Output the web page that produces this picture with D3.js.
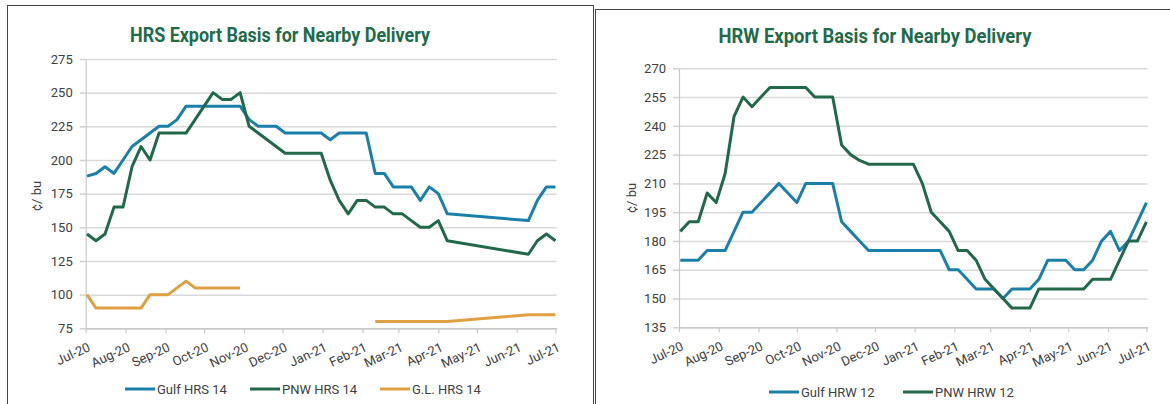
<!DOCTYPE html>
<html>
<head>
<meta charset="utf-8">
<script src="https://cdn.jsdelivr.net/npm/d3@7"></script>
<style>
  body { margin: 0; background: #fff; }
  svg { display: block; font-family: Roboto, "Noto Sans", sans-serif; }
</style>
</head>
<body>
<svg id="chart" width="1170" height="404"></svg>
<script>
// Weekly dates (Thursdays). HRS chart has no rows between Apr 8 and Jun 10.
const hrsDates = [
  "2020-07-02","2020-07-09","2020-07-16","2020-07-23","2020-07-30",
  "2020-08-06","2020-08-13","2020-08-20","2020-08-27",
  "2020-09-03","2020-09-10","2020-09-17","2020-09-24",
  "2020-10-01","2020-10-08","2020-10-15","2020-10-22","2020-10-29",
  "2020-11-05","2020-11-12","2020-11-19","2020-11-26",
  "2020-12-03","2020-12-10","2020-12-17","2020-12-24","2020-12-31",
  "2021-01-07","2021-01-14","2021-01-21","2021-01-28",
  "2021-02-04","2021-02-11","2021-02-18","2021-02-25",
  "2021-03-04","2021-03-11","2021-03-18","2021-03-25",
  "2021-04-01","2021-04-08",
  "2021-06-10","2021-06-17","2021-06-24","2021-07-01"
];
const gulfHrs14 = [188,190,195,190,200,210,215,220,225,225,230,240,240,240,240,240,240,240,
  230,225,225,225,220,220,220,220,220,215,220,220,220,220,190,190,180,180,180,170,180,175,160,
  155,170,180,180];
const pnwHrs14 = [145,140,145,165,165,195,210,200,220,220,220,220,230,240,250,245,245,250,
  225,220,215,210,205,205,205,205,205,185,170,160,170,170,165,165,160,160,155,150,150,155,140,
  130,140,145,140];
const glHrs14 = [100,90,90,90,90,90,90,100,100,100,105,110,105,105,105,105,105,105,
  null,null,null,null,null,null,null,null,null,null,null,null,null,null,80,80,80,80,80,80,80,80,80,
  85,85,85,85];

const hrwDates = [
  "2020-07-02","2020-07-09","2020-07-16","2020-07-23","2020-07-30",
  "2020-08-06","2020-08-13","2020-08-20","2020-08-27",
  "2020-09-03","2020-09-10","2020-09-17","2020-09-24",
  "2020-10-01","2020-10-08","2020-10-15","2020-10-22","2020-10-29",
  "2020-11-05","2020-11-12","2020-11-19","2020-11-26",
  "2020-12-03","2020-12-10","2020-12-17","2020-12-24","2020-12-31",
  "2021-01-07","2021-01-14","2021-01-21","2021-01-28",
  "2021-02-04","2021-02-11","2021-02-18","2021-02-25",
  "2021-03-04","2021-03-11","2021-03-18","2021-03-25",
  "2021-04-01","2021-04-08","2021-04-15","2021-04-22","2021-04-29",
  "2021-05-06","2021-05-13","2021-05-20","2021-05-27",
  "2021-06-03","2021-06-10","2021-06-17","2021-06-24","2021-07-01"
];
const gulfHrw12 = [170,170,170,175,175,175,185,195,195,200,205,210,205,200,210,210,210,210,
  190,185,180,175,175,175,175,175,175,175,175,175,165,165,160,155,155,155,150,155,155,155,
  160,170,170,170,165,165,170,180,185,175,180,190,200];
const pnwHrw12 = [185,190,190,205,200,215,245,255,250,255,260,260,260,260,260,255,255,255,
  230,225,222,220,220,220,220,220,220,210,195,190,185,175,175,170,160,155,150,145,145,145,
  155,155,155,155,155,155,160,160,160,170,180,180,190];

// axis ticks
const monthTicks = ["2020-07-01","2020-08-01","2020-09-01","2020-10-01","2020-11-01","2020-12-01",
  "2021-01-01","2021-02-01","2021-03-01","2021-04-01","2021-05-01","2021-06-01","2021-07-01"];
const hrsTicks = [75,100,125,150,175,200,225,250,275];
const hrwTicks = [135,150,165,180,195,210,225,240,255,270];

const blue = "#1a80aa";
const green = "#22684a";
const orange = "#dfa043";

const parse = d3.timeParse("%Y-%m-%d");
const svg = d3.select("#chart");

// panel borders
svg.append("rect").attr("x", 7.5).attr("y", 5.5).attr("width", 586).attr("height", 430)
  .attr("fill", "none").attr("stroke", "#444").attr("stroke-width", 1);
svg.append("rect").attr("x", 595.5).attr("y", 9.5).attr("width", 620).attr("height", 430)
  .attr("fill", "none").attr("stroke", "#444").attr("stroke-width", 1);

function drawChart(cfg) {
  const g = svg.append("g").attr("transform", `translate(${cfg.left},${cfg.top})`);
  const w = cfg.width, h = cfg.height;

  const x = d3.scaleTime()
    .domain([parse("2020-07-01"), parse("2021-07-02")])
    .range([0, w]);
  const y = d3.scaleLinear()
    .domain([cfg.ticks[0], cfg.ticks[cfg.ticks.length - 1]])
    .range([h, 0]);

  // gridlines
  const grid = g.append("g")
    .call(d3.axisLeft(y).tickValues(cfg.ticks).tickSize(-w).tickFormat(""));
  grid.select(".domain").remove();
  grid.selectAll("line").attr("stroke", "#d9d9d9").attr("stroke-width", 1.5);

  // y axis
  const yAxis = g.append("g")
    .call(d3.axisLeft(y).tickValues(cfg.ticks).tickSize(6).tickSizeOuter(0).tickPadding(7));
  yAxis.select(".domain").attr("stroke", "#c8c8c8").attr("stroke-width", 1.2);
  yAxis.selectAll("line").attr("stroke", "#d0d0d0").attr("stroke-width", 1.5);
  yAxis.selectAll("text").attr("font-size", 13).attr("fill", "#404040")
    .attr("font-family", "Roboto");

  // x axis
  const xAxis = g.append("g")
    .attr("transform", `translate(0,${h})`)
    .call(d3.axisBottom(x).tickValues(monthTicks.map(parse))
      .tickFormat(d3.timeFormat("%b-%y")).tickSize(5).tickSizeOuter(0));
  xAxis.select(".domain").attr("stroke", "#c8c8c8").attr("stroke-width", 1.5);
  xAxis.selectAll("line").attr("stroke", "#c8c8c8").attr("stroke-width", 1.2);
  xAxis.selectAll("text")
    .attr("font-size", 13).attr("fill", "#404040").attr("font-family", "Roboto")
    .attr("text-anchor", "end")
    .attr("x", 0).attr("y", 0).attr("dy", null)
    .attr("transform", "translate(5,22) rotate(-25)");

  // y title
  svg.append("text")
    .attr("transform", `translate(${cfg.yTitleX},${cfg.yTitleY}) rotate(-90)`)
    .attr("text-anchor", "middle")
    .attr("font-size", 13).attr("fill", "#404040")
    .text("¢/ bu");

  // lines
  cfg.series.forEach((s) => {
    const pts = cfg.dates.map((d, i) => ({ date: parse(d), v: s.values[i] }));
    const line = d3.line()
      .defined((d) => d.v !== null)
      .x((d) => x(d.date))
      .y((d) => y(d.v));
    g.append("path")
      .datum(pts)
      .attr("fill", "none")
      .attr("stroke", s.color)
      .attr("stroke-width", 3)
      .attr("stroke-linejoin", "round")
      .attr("d", line);
  });

  // title
  svg.append("text")
    .attr("x", cfg.titleX).attr("y", cfg.titleY)
    .attr("text-anchor", "middle")
    .attr("font-size", 20).attr("font-weight", "bold")
    .attr("fill", "#1f6b4a")
    .attr("textLength", cfg.titleLen).attr("lengthAdjust", "spacingAndGlyphs")
    .text(cfg.title);

  // legend
  cfg.series.forEach((s, i) => {
    const lx = cfg.legendX[i];
    svg.append("line")
      .attr("x1", lx).attr("x2", lx + 30)
      .attr("y1", cfg.legendY).attr("y2", cfg.legendY)
      .attr("stroke", s.color).attr("stroke-width", 3);
    svg.append("text")
      .attr("x", lx + 32).attr("y", cfg.legendY + 4.5)
      .attr("font-size", 13).attr("fill", "#404040")
      .text(s.name);
  });
}

drawChart({
  left: 85.7, top: 59, width: 471, height: 269.3,
  ticks: hrsTicks, dates: hrsDates,
  title: "HRS Export Basis for Nearby Delivery", titleX: 280, titleY: 42, titleLen: 300,
  yTitleX: 41, yTitleY: 196,
  legendX: [125, 250, 380], legendY: 389,
  series: [
    { name: "Gulf HRS 14", values: gulfHrs14, color: blue },
    { name: "PNW HRS 14", values: pnwHrs14, color: green },
    { name: "G.L. HRS 14", values: glHrs14, color: orange }
  ]
});

drawChart({
  left: 679, top: 68.3, width: 468.7, height: 259,
  ticks: hrwTicks, dates: hrwDates,
  title: "HRW Export Basis for Nearby Delivery", titleX: 875, titleY: 43, titleLen: 313,
  yTitleX: 636, yTitleY: 198,
  legendX: [769, 903], legendY: 392,
  series: [
    { name: "Gulf HRW 12", values: gulfHrw12, color: blue },
    { name: "PNW HRW 12", values: pnwHrw12, color: green }
  ]
});
</script>
</body>
</html>
